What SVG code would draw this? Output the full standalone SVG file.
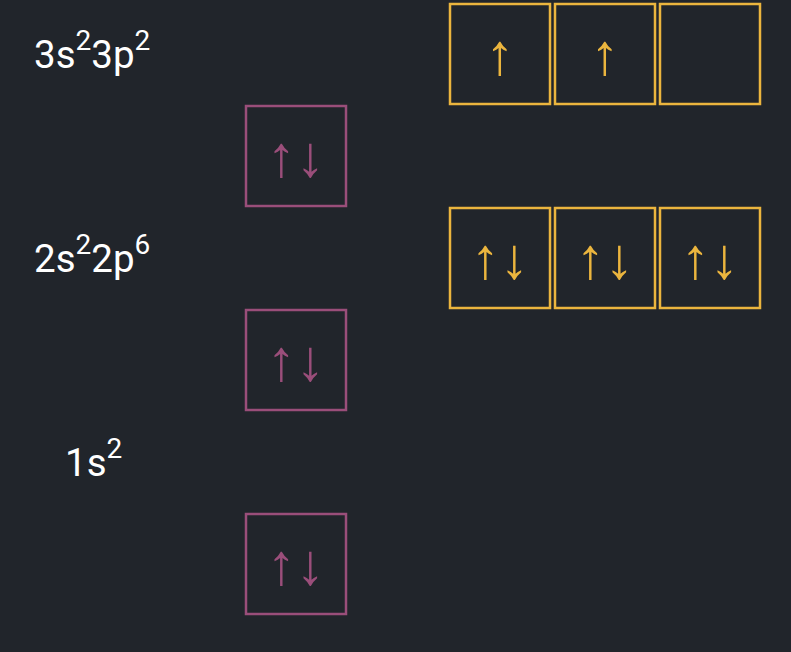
<svg xmlns="http://www.w3.org/2000/svg" width="791" height="652" viewBox="0 0 791 652">
<style>
.bg{fill:#21252b}
.lbl{font-family:Roboto,"Liberation Sans",sans-serif;fill:#ffffff;font-size:38.5px}
.sup{font-size:28px}
.s{fill:none;stroke:#9a4e7a;stroke-width:2.5}
.p{fill:none;stroke:#ebb53e;stroke-width:2.5}
.as{font-family:"Liberation Sans",sans-serif;font-size:58px;fill:#9a4e7a;text-anchor:middle}
.ap{font-family:"Liberation Sans",sans-serif;font-size:58px;fill:#ebb53e;text-anchor:middle}
</style>
<rect class="bg" x="0" y="0" width="791" height="652"/>
<g id="labels">
<text class="lbl" x="34" y="68">3s<tspan class="sup" dy="-18">2</tspan><tspan dy="18">3p</tspan><tspan class="sup" dy="-18">2</tspan></text>
<text class="lbl" x="34" y="272">2s<tspan class="sup" dy="-18">2</tspan><tspan dy="18">2p</tspan><tspan class="sup" dy="-18">6</tspan></text>
<text class="lbl" x="65" y="476">1s<tspan class="sup" dy="-18">2</tspan></text>
</g>
<g id="orb-3s"><rect class="s" x="246" y="106" width="100" height="100"/><text class="as" x="296" y="176">↑↓</text></g>
<g id="orb-2s"><rect class="s" x="246" y="310" width="100" height="100"/><text class="as" x="296" y="380">↑↓</text></g>
<g id="orb-1s"><rect class="s" x="246" y="514" width="100" height="100"/><text class="as" x="296" y="584">↑↓</text></g>
<g id="orb-3p1"><rect class="p" x="450" y="4" width="100" height="100"/><text class="ap" x="500" y="74">↑</text></g>
<g id="orb-3p2"><rect class="p" x="555" y="4" width="100" height="100"/><text class="ap" x="605" y="74">↑</text></g>
<g id="orb-3p3"><rect class="p" x="660" y="4" width="100" height="100"/></g>
<g id="orb-2p1"><rect class="p" x="450" y="208" width="100" height="100"/><text class="ap" x="500" y="278">↑↓</text></g>
<g id="orb-2p2"><rect class="p" x="555" y="208" width="100" height="100"/><text class="ap" x="605" y="278">↑↓</text></g>
<g id="orb-2p3"><rect class="p" x="660" y="208" width="100" height="100"/><text class="ap" x="710" y="278">↑↓</text></g>
<g id="connectors"></g>
</svg>
